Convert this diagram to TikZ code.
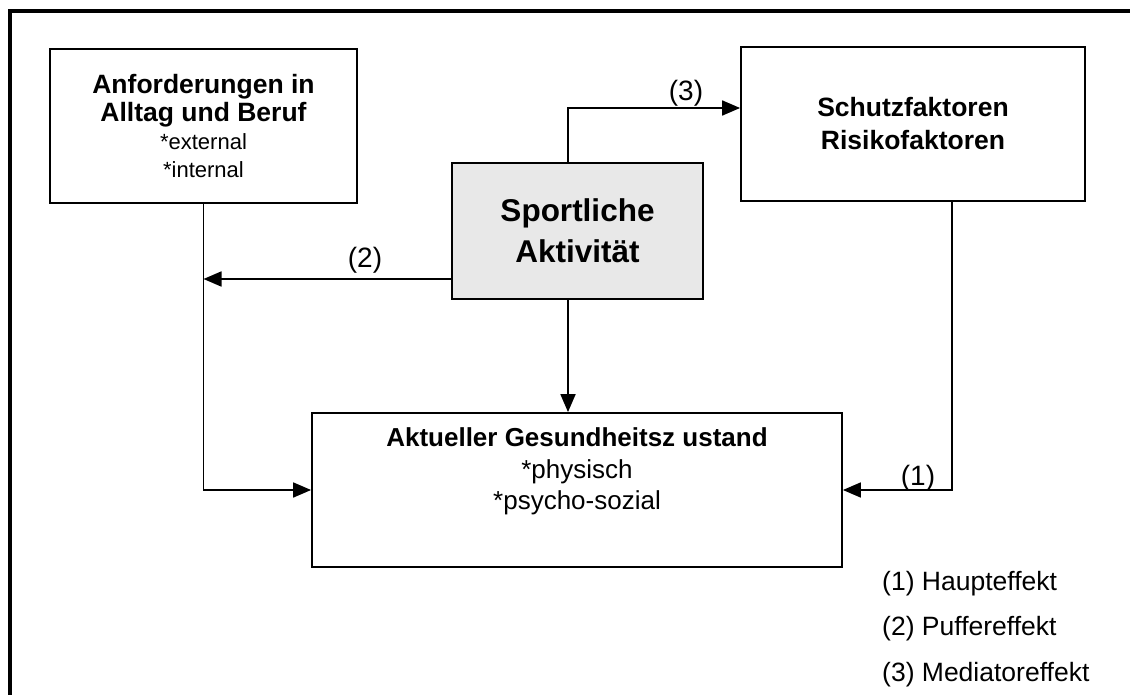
\documentclass[tikz,border=0pt]{standalone}
\usepackage{fontspec}
\setmainfont{Liberation Sans}
\usetikzlibrary{arrows.meta}
\definecolor{sgray}{HTML}{E8E8E8}

\begin{document}
\begin{tikzpicture}[x=1pt,y=-1pt,
  box/.style={draw, line width=1.8pt, rectangle, inner sep=0pt, align=center},
  conn/.style={line width=1.8pt},
  arr/.style={conn, -{Triangle[length=18pt,width=15pt]}},
  lbl/.style={font=\fontsize{28}{32}\selectfont, inner sep=0pt},
  leg/.style={font=\fontsize{26.5}{30}\selectfont, anchor=west, inner sep=0pt}]

\useasboundingbox (0,0) rectangle (1130,695);

% outer frame (only top and left edges lie inside the page)
\draw[line width=4pt] (10,700) -- (10,11.5) -- (1135,11.5);

% boxes
\node[box, minimum width=307pt, minimum height=154pt,
      font=\fontsize{22}{28}\selectfont] (A) at (203.5,126)
  {{\bfseries\fontsize{26.5}{28}\selectfont Anforderungen in}\\
   {\bfseries\fontsize{26.5}{28}\selectfont Alltag und Beruf}\\
   {}*external\\{}*internal};

\node[box, fill=sgray, minimum width=251pt, minimum height=136pt,
      font=\bfseries\fontsize{31.5}{41}\selectfont] (S) at (577.5,231)
  {Sportliche\\Aktivität};

\node[box, minimum width=344pt, minimum height=154pt,
      font=\bfseries\fontsize{26.5}{33}\selectfont] (R) at (913,124)
  {Schutzfaktoren\\Risikofaktoren};

\node[box, minimum width=530pt, minimum height=154pt] (G) at (577,490) {};
\node[anchor=north, align=center, inner sep=0pt,
      font=\fontsize{26}{31.5}\selectfont] (Gt) at ([yshift=-15.5pt]G.north)
  {{\bfseries Aktueller Gesundheitsz ustand}\\{}*physisch\\{}*psycho-sozial};

% routing points
\coordinate (t1) at (952,490);
\coordinate (t2) at (0,279);
\coordinate (t3) at (568,108);

% connectors
\draw[arr] (A.south) |- (G.west);
\draw[arr] (S.west |- t2) -- (A.south |- t2);
\draw[arr] (S.north -| t3) -- (t3) -- (R.west |- t3);
\draw[arr] (S.south -| t3) -- (G.north -| t3);
\draw[arr] (R.south -| t1) -- (t1) -- (G.east);

% effect labels
\node[lbl] (l2) at (365,260) {(2)};
\node[lbl] (l3) at (686,93) {(3)};
\node[lbl] (l1) at (918,478) {(1)};

% legend
\node[leg] (h1) at (882,584) {(1) Haupteffekt};
\node[leg] (h2) at (882,629) {(2) Puffereffekt};
\node[leg] (h3) at (882,675) {(3) Mediatoreffekt};
\end{tikzpicture}
\end{document}
